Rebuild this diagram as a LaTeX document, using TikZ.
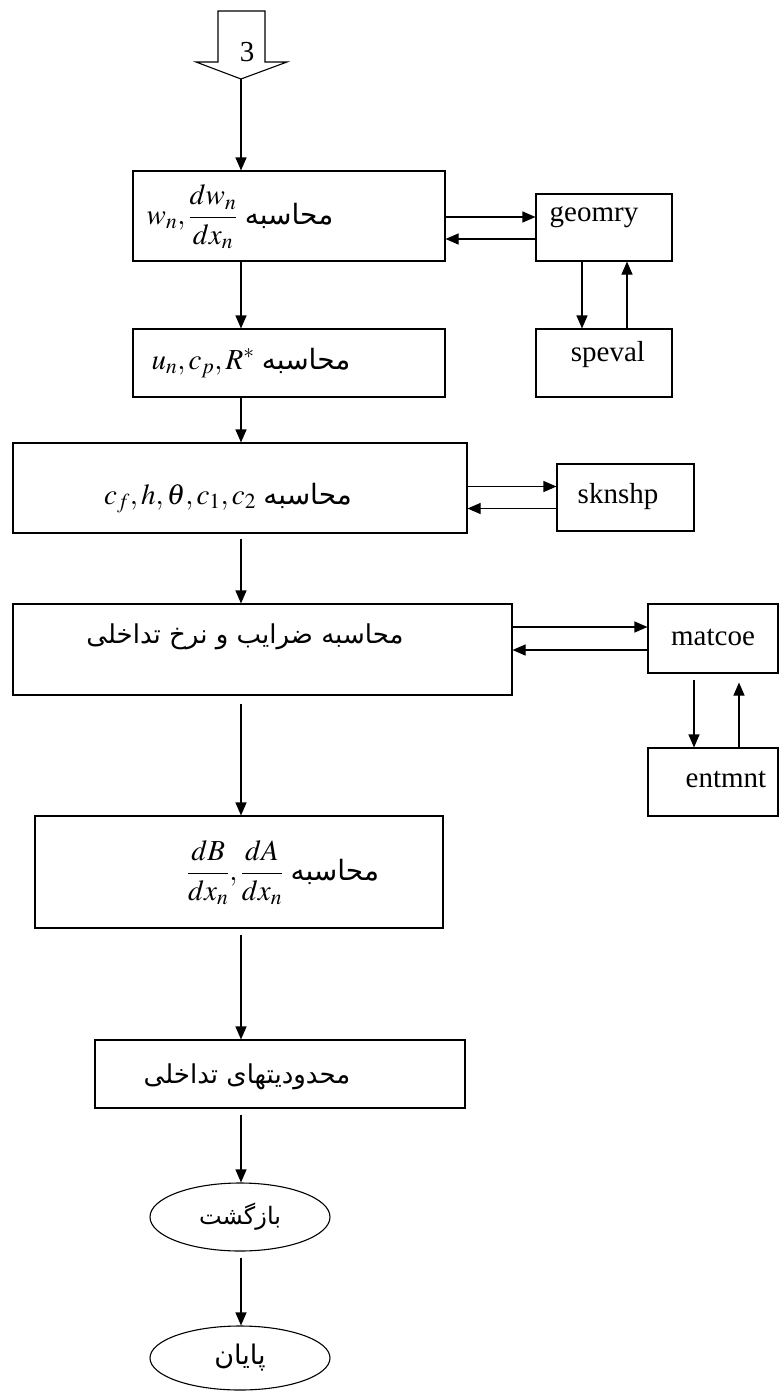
\documentclass[tikz,border=0pt]{standalone}
\usepackage{amsmath}
\usepackage{mathptmx}
\usepackage[no-math]{fontspec}
\setmainfont{Liberation Serif}
\newfontfamily\persianfont[Script=Arabic]{DejaVu Sans}
\TeXXeTstate=1
\usetikzlibrary{arrows.meta, positioning, shapes.geometric}
\newcommand{\fa}[2][22]{{\persianfont\fontsize{#1}{#1}\selectfont\beginR #2\endR}}

\begin{document}
\begin{tikzpicture}[x=1pt, y=-1pt, line width=1.1pt,
  box/.style={draw, rectangle, inner sep=0pt},
  txt/.style={inner sep=0pt, font=\fontsize{29}{34}\selectfont},
  arr/.style={-{Triangle[length=13pt, width=11pt]}}]
\useasboundingbox (0,0) rectangle (779,1392);

% Entry from step 3
\draw (218,11) -- (265,11) -- (265,62) -- (287,62) -- (241,79) -- (196,62) -- (218,62) -- cycle;
\node[txt] (three) at (247,52) {3};
\coordinate (tip) at (241,79);
\coordinate (ax) at (241,0);

% Main column
\node[box, minimum width=312pt, minimum height=90pt] (b1) at (289,216) {};
\node[box, minimum width=312pt, minimum height=68pt] (b2) at (289,363) {};
\node[box, minimum width=454pt, minimum height=90pt] (b3) at (240,488) {};
\node[box, minimum width=499pt, minimum height=91pt] (b4) at (262.5,649.5) {};
\node[box, minimum width=408pt, minimum height=112pt] (b5) at (239,872) {};
\node[box, minimum width=370pt, minimum height=68pt] (b6) at (280,1074) {};
\node[draw, ellipse, inner sep=0pt, minimum width=180pt, minimum height=68pt] (e1) at (240,1217) {\fa[24]{بازگشت}};
\node[draw, ellipse, inner sep=0pt, minimum width=180pt, minimum height=64pt] (e2) at (240,1358) {\fa[27]{پایان}};

\node[txt] (t1) at (240,217) {$w_n,\dfrac{dw_n}{dx_n}$\ \fa[28]{محاسبه}};
\node[txt] (t2) at (251,363) {$u_n,c_p,R^{*}$\ \fa[28]{محاسبه}};
\node[txt] (t3) at (228,498) {$c_f,h,\theta,c_1,c_2$\ \fa[28]{محاسبه}};
\node[txt] (t4) at (245,637) {\fa[26]{محاسبه ضرایب و نرخ تداخلی}};
\node[txt] (t5) at (283,873) {$\dfrac{dB}{dx_n},\dfrac{dA}{dx_n}$\ \fa[28]{محاسبه}};
\node[txt] (t6) at (247,1077) {\fa[26]{محدودیتهای تداخلی}};

% Side routines
\node[box, minimum width=136pt, minimum height=67pt] (geo) at (604,227.5) {};
\node[box, minimum width=136pt, minimum height=68pt] (spv) at (604,363) {};
\node[box, minimum width=137pt, minimum height=67pt] (skn) at (625.5,497.5) {};
\node[box, minimum width=130pt, minimum height=69pt] (mat) at (713,638.5) {};
\node[box, minimum width=130pt, minimum height=68pt] (ent) at (713,782) {};

\node[txt] (tgeo) at (594,217) {geomry};
\node[txt] (tspv) at (608,355) {speval};
\node[txt] (tskn) at (618,497) {sknshp};
\node[txt] (tmat) at (713,637) {matcoe};
\node[txt] (tent) at (726,779) {entmnt};

% Main flow arrows
\draw[arr] (tip) -- (b1.north -| tip);
\draw[arr] (b1.south -| ax) -- (b2.north -| ax);
\draw[arr] (b2.south -| ax) -- (b3.north -| ax);
\draw[arr, shorten <=5pt] (b3.south -| ax) -- (b4.north -| ax);
\draw[arr, shorten <=8pt] (b4.south -| ax) -- (b5.north -| ax);
\draw[arr, shorten <=6pt] (b5.south -| ax) -- (b6.north -| ax);
\draw[arr, shorten <=6pt] (b6.south -| ax) -- (e1.north -| ax);
\draw[arr, shorten <=6pt] (e1.south -| ax) -- (e2.north -| ax);

% Calls and returns
\coordinate (g1) at ([yshift=10.5pt]geo.west);
\coordinate (g2) at ([yshift=-11.5pt]geo.west);
\draw[arr] (b1.east |- g1) -- (g1);
\draw[arr] (g2) -- (b1.east |- g2);
\draw[arr] ([xshift=-22pt]geo.south) -- ([xshift=-22pt]spv.north);
\draw[arr] ([xshift=23pt]spv.north) -- ([xshift=23pt]geo.south);

\coordinate (s1) at ([yshift=11pt]skn.west);
\coordinate (s2) at ([yshift=-11pt]skn.west);
\draw[arr] (b3.east |- s1) -- (s1);
\draw[arr] (s2) -- (b3.east |- s2);

\coordinate (m1) at ([yshift=11.5pt]mat.west);
\coordinate (m2) at ([yshift=-11.5pt]mat.west);
\draw[arr] (b4.east |- m1) -- (m1);
\draw[arr] (m2) -- (b4.east |- m2);
\draw[arr, shorten <=6pt] ([xshift=-19pt]mat.south) -- ([xshift=-19pt]ent.north);
\draw[arr, shorten >=9pt] ([xshift=26pt]ent.north) -- ([xshift=26pt]mat.south);
\end{tikzpicture}
\end{document}
